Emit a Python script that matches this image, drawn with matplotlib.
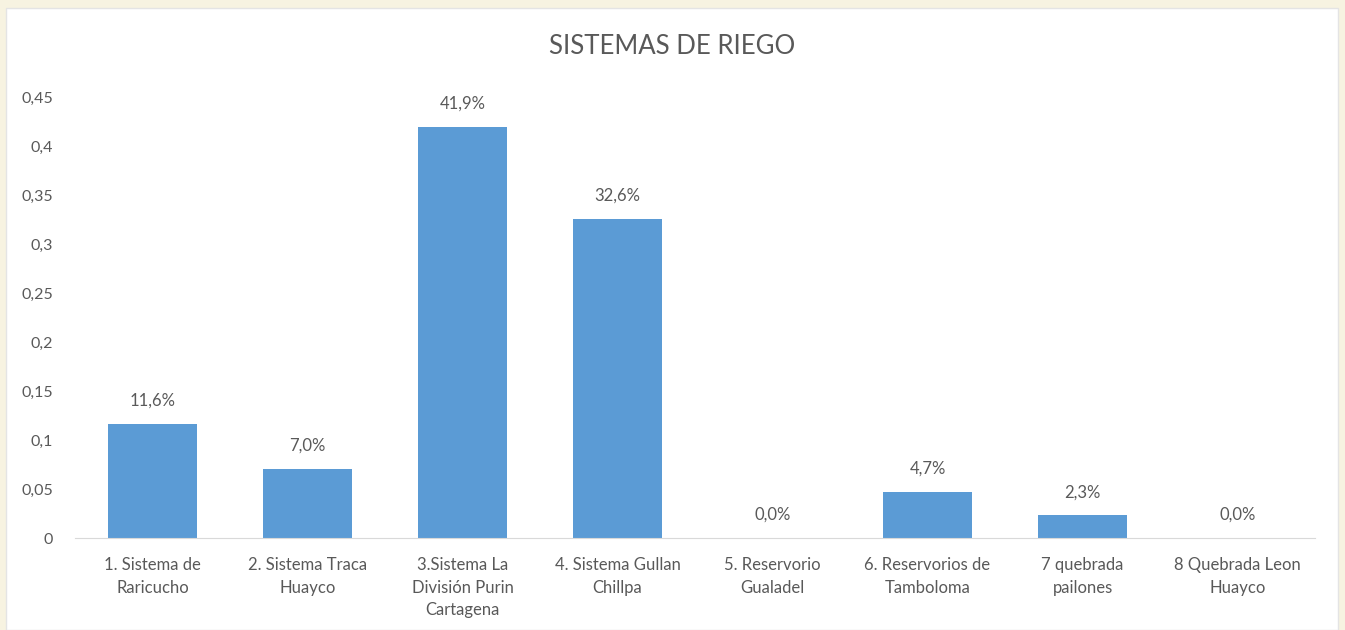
import matplotlib.pyplot as plt
from matplotlib.patches import Rectangle

categorias = ["1. Sistema de\nRaricucho", "2. Sistema Traca\nHuayco",
              "3.Sistema La\nDivisión Purin\nCartagena", "4. Sistema Gullan\nChillpa",
              "5. Reservorio\nGualadel", "6. Reservorios de\nTamboloma",
              "7 quebrada\npailones", "8 Quebrada Leon\nHuayco"]
valores = [0.116, 0.070, 0.419, 0.326, 0.0, 0.047, 0.023, 0.0]
etiquetas = ["11,6%", "7,0%", "41,9%", "32,6%", "0,0%", "4,7%", "2,3%", "0,0%"]
yticks = [0, 0.05, 0.1, 0.15, 0.2, 0.25, 0.3, 0.35, 0.4, 0.45]
ytick_labels = ["0", "0,05", "0,1", "0,15", "0,2", "0,25", "0,3", "0,35", "0,4", "0,45"]

plt.rcParams['font.family'] = ['Lato', 'DejaVu Sans']
gris = '#595959'

fig = plt.figure(figsize=(13.45, 6.3), dpi=100)
fig.patch.set_facecolor('#F7F3E1')

# white chart area inside the beige frame
bg = fig.add_axes([0, 0, 1, 1], zorder=-10)
bg.set_axis_off()
bg.set_xlim(0, 1)
bg.set_ylim(0, 1)
bg.add_patch(Rectangle((6 / 1345, 0), 1332 / 1345, 622 / 630,
                       facecolor='white', edgecolor='#E4E4E4', linewidth=1))

ax = fig.add_axes([75 / 1345, 92 / 630, 1240 / 1345, 441 / 630])
ax.set_facecolor('none')
x = range(len(categorias))
ax.bar(x, valores, width=0.57, color='#5B9BD5')
for i, v in enumerate(valores):
    ax.annotate(etiquetas[i], (i, v), xytext=(0, 11), textcoords='offset points',
                ha='center', va='bottom', fontsize=12, color=gris)

ax.set_xlim(-0.5, len(categorias) - 0.5)
ax.set_ylim(0, 0.45)
ax.set_yticks(yticks)
ax.set_yticklabels(ytick_labels, fontsize=11.5)
ax.set_xticks(list(x))
ax.set_xticklabels(categorias, linespacing=1.5, fontsize=12)
ax.tick_params(axis='both', length=0, colors=gris)
ax.tick_params(axis='y', pad=16)
ax.tick_params(axis='x', pad=14)
for s in ['top', 'right', 'left']:
    ax.spines[s].set_visible(False)
ax.spines['bottom'].set_color('#D9D9D9')

fig.text(0.5, 1 - 47 / 630, "SISTEMAS DE RIEGO", ha='center', va='center',
         fontsize=18.5, color=gris)

fig.savefig('out.png', dpi=100, facecolor=fig.get_facecolor())
